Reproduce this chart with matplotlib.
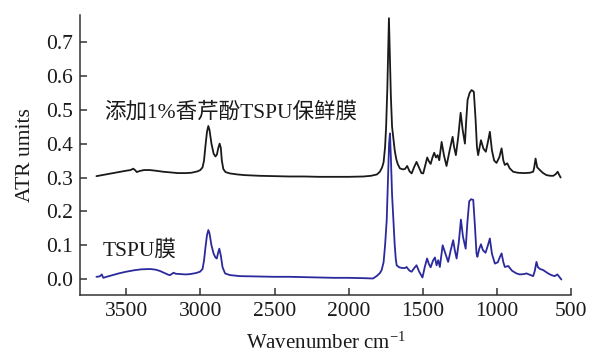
import matplotlib
matplotlib.use("Agg")
import matplotlib.pyplot as plt

plt.rcParams["font.family"] = ["Liberation Serif", "Noto Sans CJK SC", "DejaVu Sans"]
plt.rcParams["mathtext.fontset"] = "custom"
plt.rcParams["mathtext.rm"] = "Liberation Serif"
plt.rcParams["mathtext.it"] = "Liberation Serif:italic"

# ATR spectrum of the carvacrol-loaded film (wavenumber, absorbance)
film_wn = [3700, 3650, 3600, 3550, 3500, 3470, 3452, 3440, 3428, 3410, 3380, 3340,
           3300, 3250, 3200, 3150, 3100, 3060, 3020, 3000, 2985, 2975, 2965, 2955,
           2946, 2938, 2925, 2910, 2898, 2888, 2880, 2870, 2862, 2855, 2845, 2830,
           2800, 2750, 2700, 2600, 2500, 2400, 2300, 2200, 2100, 2000, 1900, 1850,
           1810, 1790, 1775, 1765, 1755, 1748, 1740, 1734, 1729, 1724, 1716, 1708,
           1700, 1690, 1680, 1670, 1655, 1635, 1621, 1606, 1590, 1576, 1560, 1543,
           1525, 1510, 1498, 1485, 1471, 1460, 1448, 1435, 1424, 1412, 1401, 1390,
           1374, 1358, 1341, 1320, 1300, 1290, 1278, 1262, 1246, 1232, 1217, 1208,
           1199, 1185, 1172, 1157, 1145, 1136, 1128, 1118, 1109, 1092, 1076, 1062,
           1049, 1035, 1020, 1004, 985, 970, 958, 948, 932, 915, 892, 860,
           820, 780, 757, 750, 741, 730, 712, 690, 667, 640, 622, 605,
           592, 582, 572]
film_abs = [0.304, 0.308, 0.312, 0.316, 0.320, 0.322, 0.326, 0.322, 0.316, 0.319, 0.322, 0.322,
            0.320, 0.317, 0.315, 0.313, 0.313, 0.314, 0.318, 0.322, 0.330, 0.350, 0.395, 0.435,
            0.452, 0.440, 0.400, 0.370, 0.362, 0.368, 0.385, 0.400, 0.388, 0.350, 0.325, 0.316,
            0.312, 0.309, 0.307, 0.305, 0.304, 0.303, 0.303, 0.302, 0.302, 0.302, 0.303, 0.305,
            0.309, 0.317, 0.330, 0.345, 0.390, 0.450, 0.560, 0.680, 0.770, 0.680, 0.540, 0.450,
            0.420, 0.380, 0.355, 0.340, 0.327, 0.324, 0.325, 0.334, 0.318, 0.312, 0.330, 0.346,
            0.328, 0.313, 0.312, 0.335, 0.359, 0.348, 0.340, 0.360, 0.373, 0.359, 0.366, 0.351,
            0.405, 0.365, 0.334, 0.380, 0.420, 0.390, 0.366, 0.420, 0.491, 0.440, 0.400, 0.470,
            0.529, 0.550, 0.558, 0.553, 0.470, 0.390, 0.366, 0.390, 0.410, 0.385, 0.376, 0.405,
            0.435, 0.380, 0.350, 0.343, 0.360, 0.386, 0.350, 0.337, 0.342, 0.327, 0.317, 0.314,
            0.313, 0.314, 0.317, 0.330, 0.356, 0.330, 0.322, 0.313, 0.307, 0.305, 0.305, 0.310,
            0.317, 0.308, 0.300]

# ATR spectrum of the neat TSPU film
tspu_wn = [3700, 3680, 3668, 3664, 3658, 3653, 3640, 3600, 3550, 3500, 3450, 3400,
           3338, 3300, 3271, 3240, 3215, 3204, 3190, 3181, 3165, 3130, 3100, 3069,
           3030, 3002, 2985, 2975, 2965, 2955, 2946, 2938, 2925, 2910, 2898, 2889,
           2880, 2872, 2862, 2850, 2833, 2800, 2732, 2600, 2500, 2400, 2300, 2200,
           2100, 2000, 1900, 1837, 1812, 1790, 1778, 1765, 1755, 1744, 1735, 1728,
           1722, 1716, 1708, 1699, 1690, 1683, 1677, 1660, 1640, 1620, 1610, 1600,
           1590, 1576, 1560, 1543, 1525, 1503, 1488, 1472, 1460, 1448, 1432, 1419,
           1408, 1397, 1386, 1367, 1348, 1330, 1313, 1296, 1285, 1273, 1258, 1244,
           1230, 1212, 1200, 1188, 1175, 1161, 1150, 1139, 1133, 1120, 1109, 1095,
           1078, 1062, 1049, 1035, 1015, 995, 982, 970, 958, 948, 925, 900,
           870, 847, 820, 802, 780, 757, 746, 735, 725, 710, 690, 660,
           635, 612, 594, 580, 567]
tspu_abs = [0.007, 0.008, 0.012, 0.014, 0.008, 0.004, 0.006, 0.011, 0.017, 0.022, 0.026, 0.029,
            0.030, 0.028, 0.024, 0.018, 0.013, 0.012, 0.016, 0.019, 0.016, 0.015, 0.014, 0.015,
            0.018, 0.022, 0.030, 0.055, 0.095, 0.130, 0.145, 0.135, 0.100, 0.075, 0.064, 0.061,
            0.078, 0.090, 0.070, 0.035, 0.017, 0.012, 0.009, 0.008, 0.007, 0.007, 0.006, 0.005,
            0.004, 0.004, 0.003, 0.002, 0.009, 0.018, 0.027, 0.050, 0.100, 0.174, 0.300, 0.400,
            0.430, 0.360, 0.250, 0.174, 0.100, 0.060, 0.041, 0.035, 0.033, 0.033, 0.036, 0.030,
            0.025, 0.022, 0.032, 0.041, 0.022, 0.005, 0.035, 0.061, 0.045, 0.035, 0.055, 0.064,
            0.041, 0.056, 0.036, 0.100, 0.075, 0.051, 0.085, 0.115, 0.085, 0.061, 0.110, 0.176,
            0.125, 0.090, 0.170, 0.230, 0.236, 0.234, 0.160, 0.076, 0.066, 0.090, 0.103, 0.085,
            0.078, 0.100, 0.120, 0.075, 0.046, 0.050, 0.065, 0.076, 0.050, 0.036, 0.039, 0.025,
            0.017, 0.014, 0.015, 0.017, 0.013, 0.009, 0.025, 0.051, 0.035, 0.030, 0.027, 0.018,
            0.012, 0.009, 0.014, 0.006, -0.001]

x_ticks = [3500, 3000, 2500, 2000, 1500, 1000, 500]
y_ticks = [0.0, 0.1, 0.2, 0.3, 0.4, 0.5, 0.6, 0.7]

fig = plt.figure(figsize=(5.89, 3.53), dpi=100)
ax = fig.add_axes([0.136, 0.164, 0.834, 0.794])

ax.plot(film_wn, film_abs, color="#1a1a1a", linewidth=1.3,
        solid_joinstyle="round", solid_capstyle="round")
ax.plot(tspu_wn, tspu_abs, color="#2b2a9c", linewidth=1.3,
        solid_joinstyle="round", solid_capstyle="round")

ax.text(3650, 0.493, "添加1%香芹酚TSPU保鲜膜", fontsize=15.5, va="center", ha="left",
        color="#1a1a1a")
ax.text(3660, 0.086, "TSPU膜", fontsize=15.5, va="center", ha="left", color="#1a1a1a")

ax.set_xlim(3810, 500)
ax.set_ylim(-0.047, 0.78)
ax.set_xticks(x_ticks)
ax.set_xticklabels([str(t) for t in x_ticks])
ax.set_yticks(y_ticks)
ax.set_yticklabels([f"{t:.1f}" for t in y_ticks])

for side in ("top", "right"):
    ax.spines[side].set_visible(False)
for side in ("left", "bottom"):
    ax.spines[side].set_linewidth(1.1)
    ax.spines[side].set_color("#333333")

ax.tick_params(direction="in", length=5, width=1.1, colors="#333333",
               labelsize=15.5, labelcolor="#1a1a1a")
ax.tick_params(axis="x", pad=5)
ax.tick_params(axis="y", pad=5)

ax.set_xlabel("Wavenumber cm$^{-1}$", fontsize=15, labelpad=8, color="#1a1a1a")
ax.set_ylabel("ATR umits", fontsize=15.5, labelpad=8, color="#1a1a1a")

fig.savefig("out.png", dpi=100)
plt.close(fig)
